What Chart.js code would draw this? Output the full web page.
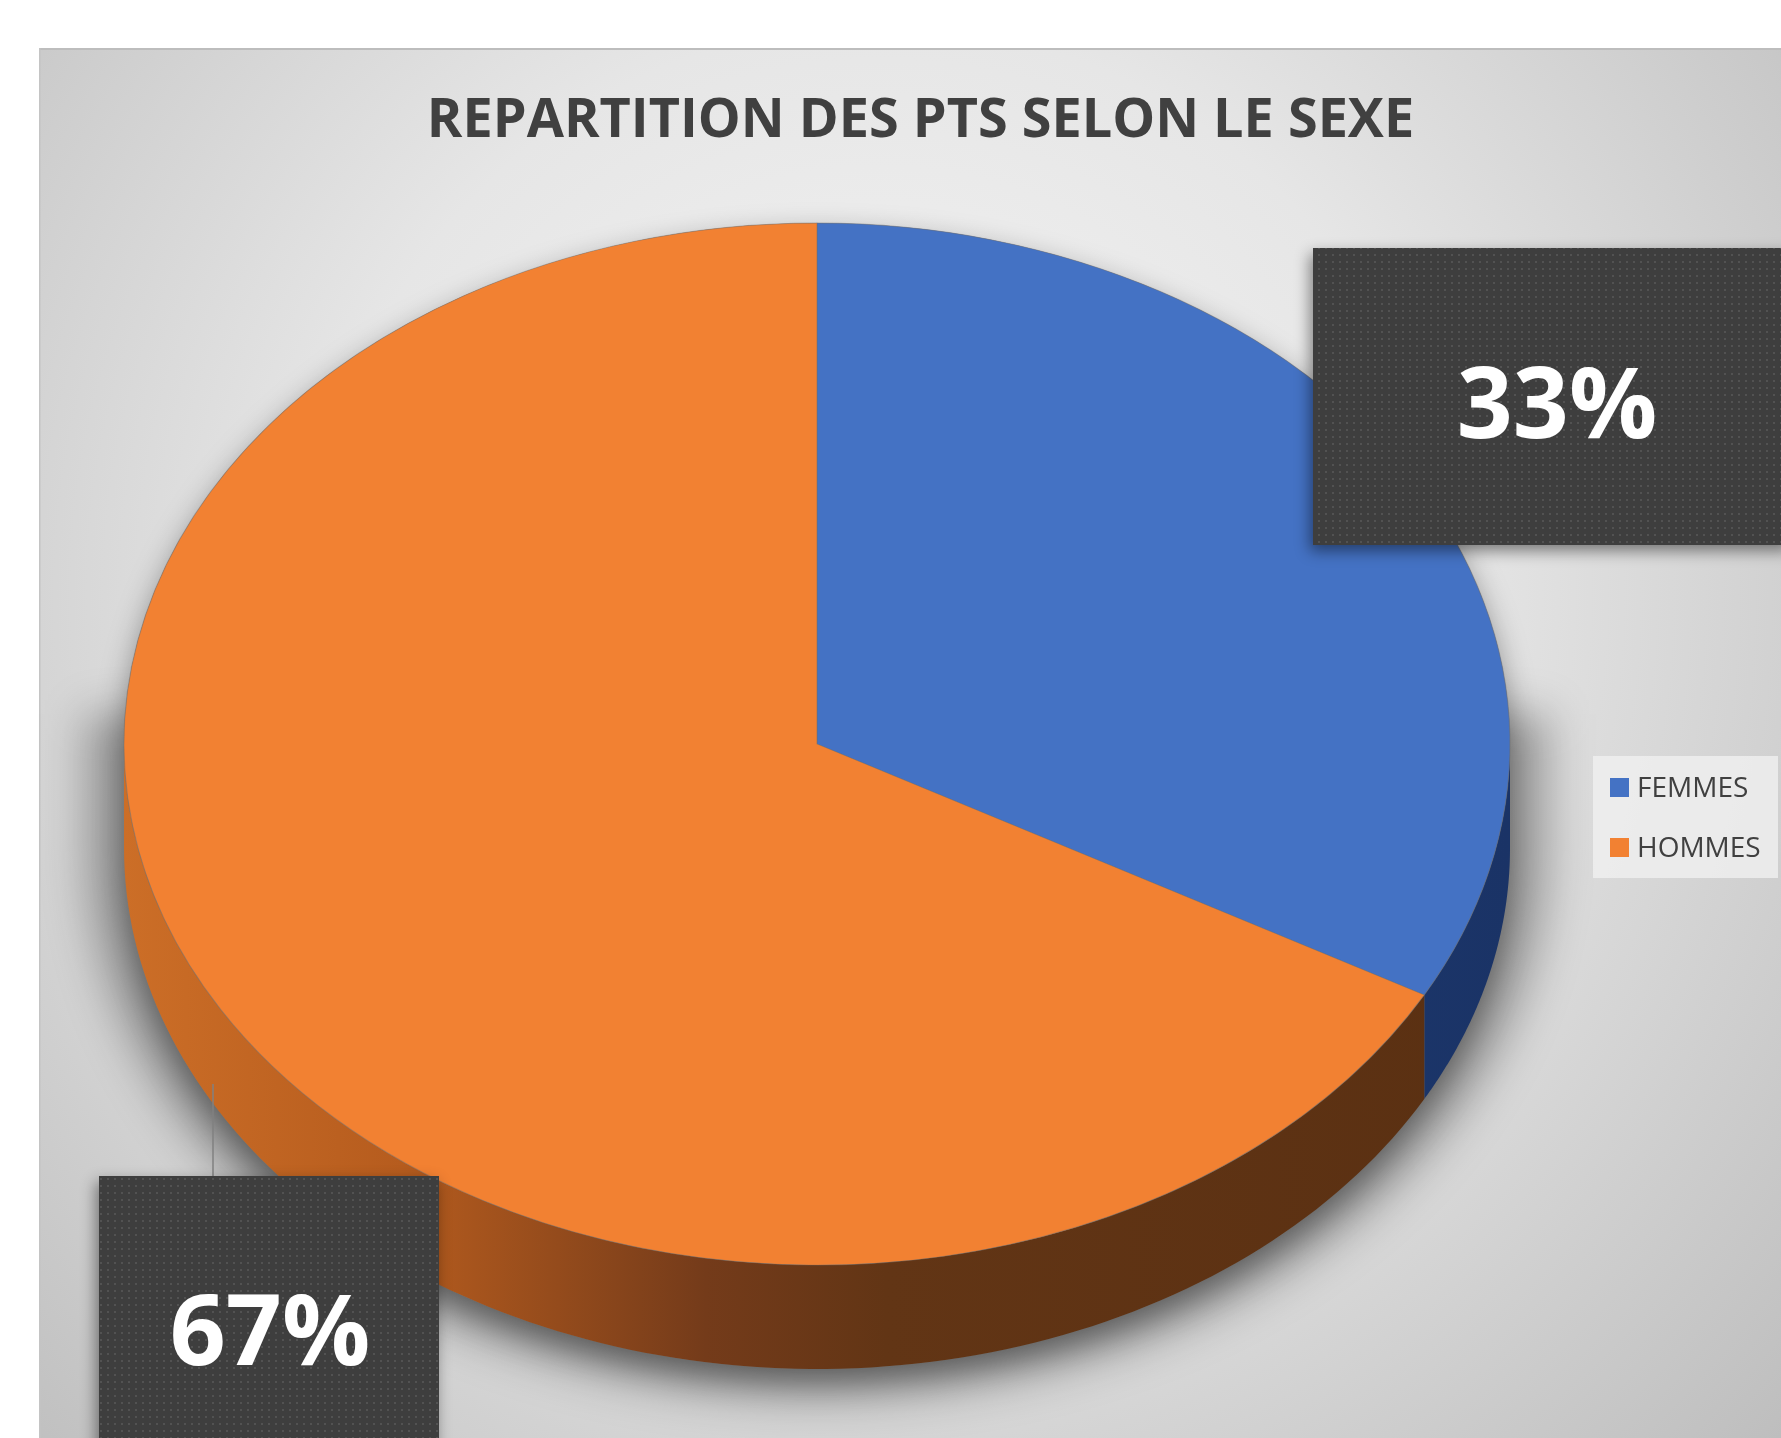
<!DOCTYPE html>
<html><head><meta charset="utf-8">
<script src="https://cdn.jsdelivr.net/npm/chart.js@4.4.1/dist/chart.umd.min.js"></script>
<style>html,body{margin:0;padding:0;background:#fff;overflow:hidden}canvas{display:block}</style>
</head><body>
<canvas id="c" width="1781" height="1438"></canvas>
<script>
// ---- data ----
const titleText = 'REPARTITION DES PTS SELON LE SEXE';
const categories = ['FEMMES', 'HOMMES'];
const values = [33, 67];

// ---- styles ----
const faceColors = ['#4472C4', '#F28132'];
const G = {cx: 817, cy: 744, rx: 693, ry: 521, depth: 104};

function ellPt(t, dy) { return [G.cx + G.rx * Math.cos(t), G.cy + G.ry * Math.sin(t) + (dy || 0)]; }

function sidePath(ctx, a1, a2) {
  const N = 120;
  ctx.beginPath();
  for (let i = 0; i <= N; i++) { const p = ellPt(a1 + (a2 - a1) * i / N, 0); i ? ctx.lineTo(p[0], p[1]) : ctx.moveTo(p[0], p[1]); }
  for (let i = N; i >= 0; i--) { const p = ellPt(a1 + (a2 - a1) * i / N, G.depth); ctx.lineTo(p[0], p[1]); }
  ctx.closePath();
}

const pie3d = {
  id: 'pie3d',
  beforeDraw(chart) {
    const ctx = chart.ctx;
    ctx.save();
    ctx.fillStyle = '#ffffff';
    ctx.fillRect(0, 0, chart.width, chart.height);
    const g = ctx.createRadialGradient(880, 560, 0, 880, 620, 1250);
    g.addColorStop(0, '#f5f5f5');
    g.addColorStop(0.45, '#e6e6e6');
    g.addColorStop(1, '#bcbcbc');
    ctx.fillStyle = g;
    ctx.fillRect(40, 49, chart.width - 40, chart.height - 49);
    ctx.fillStyle = '#bdbdbd';
    ctx.fillRect(40, 48, chart.width - 40, 2);
    ctx.fillStyle = '#c4c4c4';
    ctx.fillRect(39, 48, 1.5, chart.height - 48);
    ctx.restore();
  },
  beforeDatasetsDraw(chart) {
    const ctx = chart.ctx;
    const arcs = chart.getDatasetMeta(0).data;
    // soft wall shadow behind the cylinder
    ctx.save();
    ctx.filter = 'blur(22px)';
    ctx.fillStyle = 'rgba(0,0,0,0.30)';
    ctx.beginPath();
    ctx.moveTo(G.cx - G.rx - 38, G.cy - 30);
    ctx.lineTo(G.cx + G.rx + 38, G.cy - 30);
    ctx.ellipse(G.cx, G.cy + G.depth, G.rx + 38, G.ry + 30, 0, 0, Math.PI);
    ctx.closePath();
    ctx.fill();
    ctx.restore();
    // contact shadow of the cylinder
    ctx.save();
    ctx.beginPath();
    ctx.ellipse(G.cx, G.cy, G.rx, G.ry, 0, Math.PI, 2 * Math.PI);
    ctx.ellipse(G.cx, G.cy + G.depth, G.rx, G.ry, 0, 0, Math.PI);
    ctx.closePath();
    ctx.shadowColor = 'rgba(0,0,0,0.4)';
    ctx.shadowBlur = 30;
    ctx.shadowOffsetY = 12;
    ctx.fillStyle = '#7a7a7a';
    ctx.fill();
    ctx.restore();
    // sides
    const sideFill = [
      () => { const g = ctx.createLinearGradient(G.cx, 0, G.cx + G.rx, 0); g.addColorStop(0, '#213f78'); g.addColorStop(1, '#1a3366'); return g; },
      () => { const g = ctx.createLinearGradient(G.cx - G.rx, 0, G.cx + G.rx, 0);
              g.addColorStop(0, '#cc6e27'); g.addColorStop(0.2, '#b65c1e'); g.addColorStop(0.42, '#743b1a');
              g.addColorStop(0.55, '#623515'); g.addColorStop(1, '#5a3012'); return g; }
    ];
    arcs.forEach((a, i) => {
      const s = Math.max(a.startAngle, 0), e = Math.min(a.endAngle, Math.PI);
      if (e > s) {
        ctx.save();
        sidePath(ctx, s, e);
        ctx.fillStyle = sideFill[i]();
        ctx.fill();
        ctx.restore();
      }
    });
    // transform circle -> ellipse
    const a0 = arcs[0];
    const r = a0.outerRadius;
    ctx.save();
    ctx.translate(G.cx, G.cy);
    ctx.scale(G.rx / r, G.ry / r);
    ctx.translate(-a0.x, -a0.y);
  },
  afterDatasetsDraw(chart) {
    const ctx = chart.ctx;
    ctx.restore();
    const total = values.reduce((s, v) => s + v, 0);
    const pct = values.map(v => Math.round(v / total * 100) + '%');

    // dotted pattern
    const pc = document.createElement('canvas');
    pc.width = 7; pc.height = 7;
    const px = pc.getContext('2d');
    px.fillStyle = '#3e3e3e'; px.fillRect(0, 0, 7, 7);
    px.fillStyle = '#525252'; px.fillRect(2, 2, 2, 2);
    const pat = ctx.createPattern(pc, 'repeat');

    // leader line
    ctx.save();
    ctx.strokeStyle = '#808080';
    ctx.lineWidth = 1.5;
    ctx.beginPath(); ctx.moveTo(213, 1084); ctx.lineTo(213, 1176); ctx.stroke();
    ctx.restore();

    const boxes = [
      {x: 1313, y: 248, w: 480, h: 297, tx: 1557, ty: 438},
      {x: 99, y: 1176, w: 340, h: 280, tx: 270, ty: 1365}
    ];
    boxes.forEach((b, i) => {
      ctx.save();
      ctx.shadowColor = 'rgba(0,0,0,0.45)';
      ctx.shadowBlur = 14;
      ctx.shadowOffsetX = -3;
      ctx.shadowOffsetY = 6;
      ctx.fillStyle = '#3e3e3e';
      ctx.fillRect(b.x, b.y, b.w, b.h);
      ctx.restore();
      ctx.save();
      ctx.fillStyle = pat;
      ctx.fillRect(b.x, b.y, b.w, b.h);
      ctx.fillStyle = '#ffffff';
      ctx.font = 'bold 98px "Open Sans"';
      ctx.textAlign = 'center';
      ctx.textBaseline = 'alphabetic';
      ctx.fillText(pct[i], b.tx, b.ty);
      ctx.restore();
    });

    // legend
    ctx.save();
    ctx.fillStyle = 'rgba(238,238,238,0.85)';
    ctx.fillRect(1593, 756, 185, 122);
    ctx.font = '28px "Open Sans"';
    ctx.textBaseline = 'alphabetic';
    ctx.textAlign = 'left';
    categories.forEach((c, i) => {
      const y = 778 + i * 60;
      ctx.fillStyle = faceColors[i];
      ctx.fillRect(1610, y, 19, 19);
      ctx.fillStyle = '#404040';
      ctx.fillText(c, 1637, y + 19);
    });
    ctx.restore();
  }
};

function build() {
  new Chart(document.getElementById('c'), {
    type: 'pie',
    data: {
      labels: categories,
      datasets: [{
        data: values,
        backgroundColor: faceColors,
        borderColor: 'rgba(110,110,110,0.45)',
        borderWidth: 1,
        clip: false
      }]
    },
    options: {
      responsive: false,
      animation: false,
      devicePixelRatio: 1,
      events: [],
      layout: {padding: {left: 60, right: 0, top: 0, bottom: 0}},
      plugins: {
        legend: {display: false},
        tooltip: {enabled: false},
        title: {
          display: true,
          text: titleText,
          color: '#404040',
          font: {family: 'Open Sans', size: 54, weight: 'bold'},
          padding: {top: 89, bottom: 20}
        }
      }
    },
    plugins: [pie3d]
  });
}
Promise.all([
  document.fonts.load('bold 54px "Open Sans"'),
  document.fonts.load('bold 98px "Open Sans"'),
  document.fonts.load('28px "Open Sans"')
]).then(build, build);
</script>
</body></html>
